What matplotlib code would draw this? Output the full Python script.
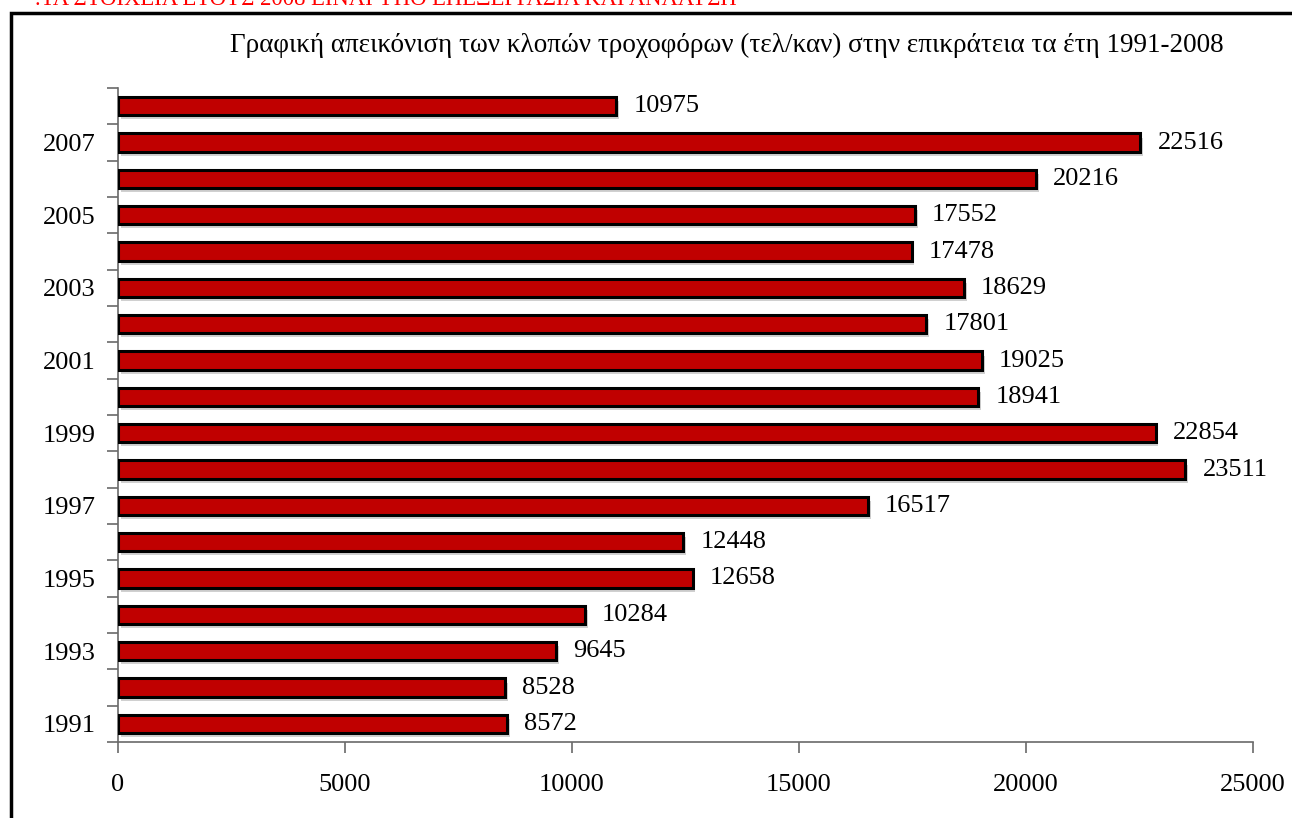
import matplotlib
matplotlib.use("Agg")
import matplotlib.pyplot as plt
import matplotlib.patheffects as pe
from matplotlib.lines import Line2D
import numpy as np

years = list(range(1991, 2009))
values = [8572, 8528, 9645, 10284, 12658, 12448, 16517, 23511, 22854,
          18941, 19025, 17801, 18629, 17478, 17552, 20216, 22516, 10975]
year_labels = [str(y) if y % 2 == 1 else "" for y in years]
xticks = [0, 5000, 10000, 15000, 20000, 25000]
title = "Γραφική απεικόνιση των κλοπών τροχοφόρων (τελ/καν) στην επικράτεια τα έτη 1991-2008"
note = ".ΤΑ ΣΤΟΙΧΕΙΑ ΕΤΟΥΣ 2008 ΕΙΝΑΙ ΥΠΟ ΕΠΕΞΕΡΓΑΣΙΑ ΚΑΙ ΑΝΑΛΥΣΗ"

plt.rcParams['font.family'] = ['Liberation Serif', 'DejaVu Serif']

W, H = 1292, 818
fig = plt.figure(figsize=(W / 100, H / 100), dpi=100)
ax = fig.add_axes([118 / W, 1 - 742 / H, (1253 - 118) / W, (742 - 88) / H])

pos = np.arange(len(years))
bars = ax.barh(pos, values, height=0.5, color="#C00000", edgecolor="black",
               linewidth=2.2, zorder=3)
for b in bars:
    b.set_path_effects([pe.SimplePatchShadow(offset=(2, -3), shadow_rgbFace="#7a7a7a", alpha=0.35),
                        pe.Normal()])

for p, v in zip(pos, values):
    ax.text(v + 380, p, f"{v}", va="center", ha="left", fontsize=19, color="black")

ax.set_xlim(0, 25000)
ax.set_ylim(-0.5, len(years) - 0.5)
ax.set_xticks(xticks)
ax.set_xticklabels([str(t) for t in xticks], fontsize=19)
ax.set_yticks(pos)
ax.set_yticklabels(year_labels, fontsize=19)
ax.set_yticks(np.arange(-0.5, len(years), 1.0), minor=True)
ax.tick_params(axis="y", which="major", length=0, pad=16)
ax.tick_params(axis="y", which="minor", length=8, width=1.2, color="#6a6a6a")
ax.tick_params(axis="x", which="major", length=8, width=1.2, color="#6a6a6a", pad=15)

for s in ["top", "right"]:
    ax.spines[s].set_visible(False)
for s in ["left", "bottom"]:
    ax.spines[s].set_color("#6a6a6a")
    ax.spines[s].set_linewidth(1.2)

fig.text(727 / W, 1 - 45 / H, title, ha="center", va="center", fontsize=19.5)
fig.text(35 / W, 1 - 5 / H, note, ha="left", va="baseline", fontsize=16.3, color="red")

fig.add_artist(Line2D([11 / W, 11 / W, 1.0], [0.0, 1 - 13 / H, 1 - 13 / H],
                      transform=fig.transFigure, color="black", linewidth=2.5,
                      solid_joinstyle="miter"))

fig.savefig("out.png", dpi=100)
